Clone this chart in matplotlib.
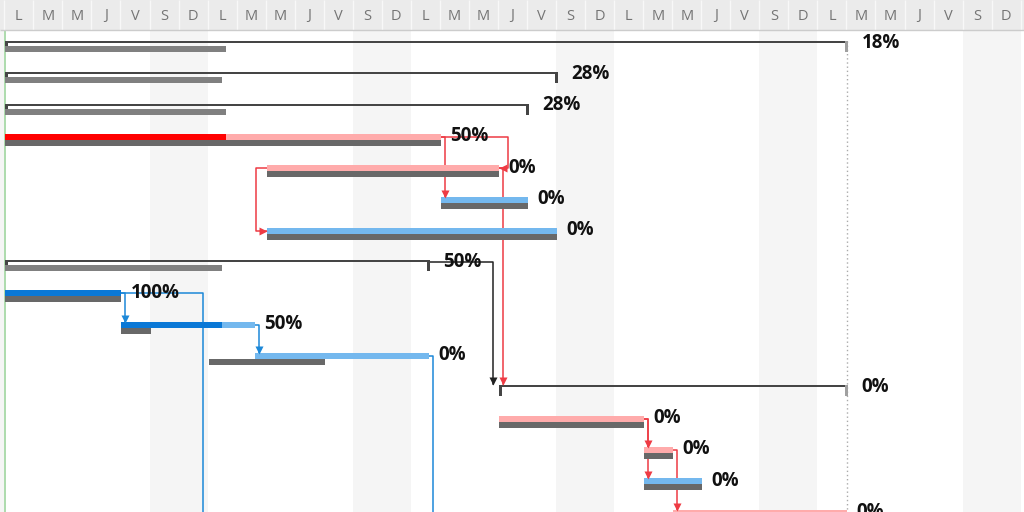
import matplotlib.pyplot as plt
from matplotlib.patches import Rectangle

# day letters of the timeline header (French week, starts on Monday)
week_letters = ['L', 'M', 'M', 'J', 'V', 'S', 'D']
n_cols = 35
project_end = 29

# one entry per row, in days from the project start
kinds = ['sum', 'sum', 'sum', 'task', 'task', 'task', 'task', 'sum',
         'task', 'task', 'task', 'sum', 'task', 'task', 'task', 'task']
starts = [0, 0, 0, 0, 9, 15, 9, 0, 0, 4, 8.6, 17, 17, 22, 22, 23]
ends = [29, 19, 18, 15, 17, 18, 19, 14.6, 4, 8.6, 14.6, 29, 22, 23, 24, 29]
done = [None, None, None, 7.6, 9, 15, 9, None, 4, 7.45, 8.6, None, 17, 22, 22, 23]
base_starts = [0, 0, 0, 0, 9, 15, 9, 0, 0, 4, 7, None, 17, 22, 22, 23]
base_ends = [7.6, 7.45, 7.6, 15, 17, 18, 19, 7.45, 4, 5, 11, None, 22, 23, 24, 29]
labels = ['18%', '28%', '28%', '50%', '0%', '0%', '0%', '50%',
          '100%', '50%', '0%', '0%', '0%', '0%', '0%', '0%']
critical = [False, False, False, True, True, False, False, False,
            False, False, False, False, True, True, False, True]

# links (from row, to row, type); rows 16/17 continue below the visible area
links = [(3, 5, 'FS'), (3, 4, 'FF'), (4, 11, 'FS'), (4, 6, 'SS'), (7, 11, 'FS'),
         (8, 9, 'FS'), (8, 16, 'FS'), (9, 10, 'FS'), (10, 17, 'FS'),
         (12, 13, 'FS'), (12, 14, 'FS'), (13, 15, 'FS')]
hidden_starts = {16: 7, 17: 14.6}

PX_X = 29.04   # pixels per day
PX_Y = 31.3    # pixels per row


def px_x(p):
    return p / PX_X


def px_y(p):
    return p / PX_Y


fig = plt.figure(figsize=(10.24, 5.12), dpi=100)
ax = fig.add_axes([0, 0, 1, 1])
x0, x1 = -5.3 / PX_X, (1024 - 5.3) / PX_X
y_top, y_bot = -41 / PX_Y, (512 - 41) / PX_Y
ax.set_xlim(x0, x1)
ax.set_ylim(y_bot, y_top)
ax.axis('off')

hdr_bot = px_y(30 - 41)
edge = px_x(1)

# weekend shading
for i in range(-1, n_cols + 1):
    if i % 7 in (5, 6):
        ax.add_patch(Rectangle((i - edge, hdr_bot), 1, y_bot - hdr_bot,
                               color='#f5f5f5', lw=0, zorder=0))

# header
ax.add_patch(Rectangle((x0, y_top), x1 - x0, hdr_bot - y_top, color='#ebebeb', lw=0, zorder=6))
for i in range(0, n_cols + 1):
    ax.vlines(i - edge, y_top, hdr_bot, color='#f8f8f8', lw=1, zorder=7)
for i in range(0, n_cols):
    ax.text(i + 0.5 - edge, px_y(16 - 41), week_letters[i % 7], ha='center', va='center',
            fontsize=10.5, color='#747474', family='Open Sans', zorder=8)
ax.hlines(hdr_bot, x0, x1, color='#cccccc', lw=1, zorder=8)

# start line and project end
ax.vlines(0, hdr_bot, y_bot, color='#a6d8a6', lw=1.3, zorder=1)
ax.vlines(project_end, 0, y_bot, color='#aaaaaa', lw=1, linestyles=(0, (1, 2)), zorder=1)

for r, kind in enumerate(kinds):
    s, e = starts[r], ends[r]
    if kind == 'sum':
        ax.add_patch(Rectangle((s, r), e - s, px_y(2), color='#454545', lw=0, zorder=3))
        ax.add_patch(Rectangle((s, r), px_x(3), px_y(11), color='#454545', lw=0, zorder=3))
        end_col = '#a0a0a0' if e == project_end else '#454545'
        ax.add_patch(Rectangle((e - px_x(2), r), px_x(3), px_y(11), color=end_col, lw=0, zorder=3))
        if base_starts[r] is not None:
            ax.add_patch(Rectangle((base_starts[r], r + px_y(5)), base_ends[r] - base_starts[r],
                                   px_y(6), color='#808080', lw=0, zorder=3))
        lx = e + px_x(14)
    else:
        c_done, c_left = ('#ff0000', '#ffabab') if critical[r] else ('#0a78d6', '#74b8ee')
        ax.add_patch(Rectangle((s, r - px_y(1)), e - s, px_y(6), color=c_left, lw=0, zorder=3))
        if done[r] > s:
            ax.add_patch(Rectangle((s, r - px_y(1)), done[r] - s, px_y(6), color=c_done, lw=0, zorder=3))
        ax.add_patch(Rectangle((base_starts[r], r + px_y(5)), base_ends[r] - base_starts[r],
                               px_y(6), color='#686868', lw=0, zorder=3))
        lx = e + px_x(9)
    ax.text(lx, r + px_y(1.5), labels[r], ha='left', va='center', fontsize=13.5,
            fontweight='bold', family='Open Sans', color='#111111', zorder=5)

# dependency links
for a, b, kind in links:
    if kinds[a] == 'sum':
        col = '#222222'
    elif critical[a]:
        col = '#ee3b44'
    else:
        col = '#1c88d8'
    ya = a + px_y(2)
    yb = b + px_y(2)
    tb = starts[b] if b < len(starts) else hidden_starts[b]
    lw = 1.1
    if kind == 'FS':
        if tb > ends[a] + 0.5:
            xv = tb - px_x(5.5)
        else:
            xv = ends[a] + px_x(4)
        ax.plot([ends[a], xv, xv], [ya, ya, b - px_y(1)], color=col, lw=lw, zorder=2)
        ax.plot(xv, b - px_y(4), marker='v', ms=6, color=col, mec='none', zorder=4)
    elif kind == 'FF':
        xv = max(ends[a], ends[b]) + px_x(9)
        ax.plot([ends[a], xv, xv, ends[b]], [ya, ya, yb, yb], color=col, lw=lw, zorder=2)
        ax.plot(ends[b] + px_x(4), yb, marker='<', ms=6, color=col, mec='none', zorder=4)
    elif kind == 'SS':
        xv = starts[a] - px_x(11)
        ax.plot([starts[a], xv, xv, starts[b]], [ya, ya, yb, yb], color=col, lw=lw, zorder=2)
        ax.plot(starts[b] - px_x(4), yb, marker='>', ms=6, color=col, mec='none', zorder=4)

fig.savefig('out.png', dpi=100)
